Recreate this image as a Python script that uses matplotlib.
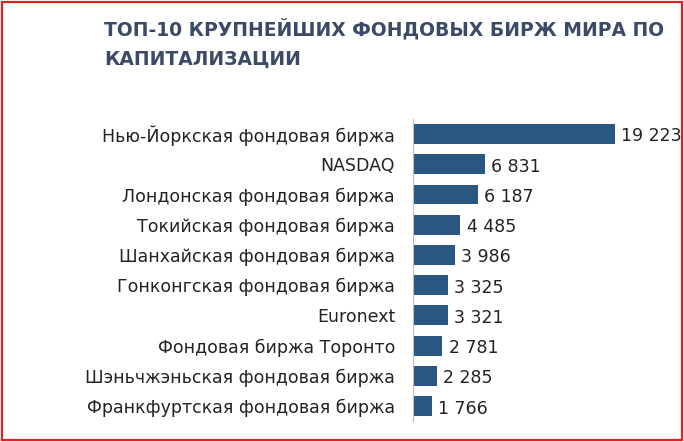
import matplotlib.pyplot as plt
from matplotlib.patches import Rectangle

exchanges = ["Нью-Йоркская фондовая биржа", "NASDAQ", "Лондонская фондовая биржа",
             "Токийская фондовая биржа", "Шанхайская фондовая биржа",
             "Гонконгская фондовая биржа", "Euronext", "Фондовая биржа Торонто",
             "Шэньчжэньская фондовая биржа", "Франкфуртская фондовая биржа"]
cap = [19223, 6831, 6187, 4485, 3986, 3325, 3321, 2781, 2285, 1766]
cap_labels = ["19 223", "6 831", "6 187", "4 485", "3 986", "3 325", "3 321",
              "2 781", "2 285", "1 766"]

fig = plt.figure(figsize=(6.84, 4.42), dpi=100)
fig.patches.append(Rectangle((0.003, 0.004), 0.994, 0.992, transform=fig.transFigure,
                             fill=False, edgecolor="#e02020", linewidth=1.6))

ax = fig.add_axes([0.604, 0.047, 0.295, 0.684])
y = list(range(len(cap)))
ax.barh(y, cap, height=0.66, color="#2a5782")
ax.set_xlim(0, 19223)
ax.set_ylim(len(cap) - 0.5, -0.5)
for i, v in enumerate(cap):
    ax.text(v + 600, i + 0.08, cap_labels[i], va="center", ha="left", fontsize=12.5,
            color="#222222", clip_on=False)
ax.set_yticks(y)
ax.set_yticklabels(exchanges, fontsize=12.5, color="#222222")
ax.tick_params(axis="y", length=0, pad=13)
ax.set_xticks([])
for s in ax.spines.values():
    s.set_visible(False)
ax.spines["left"].set_visible(True)
ax.spines["left"].set_color("#bbbbbb")

fig.text(0.152, 0.935, "ТОП-10 КРУПНЕЙШИХ ФОНДОВЫХ БИРЖ МИРА ПО", fontsize=13.5,
         fontweight="bold", color="#3b4a66", va="center")
fig.text(0.152, 0.865, "КАПИТАЛИЗАЦИИ", fontsize=13.5, fontweight="bold",
         color="#3b4a66", va="center")

fig.savefig("out.png", dpi=100)
